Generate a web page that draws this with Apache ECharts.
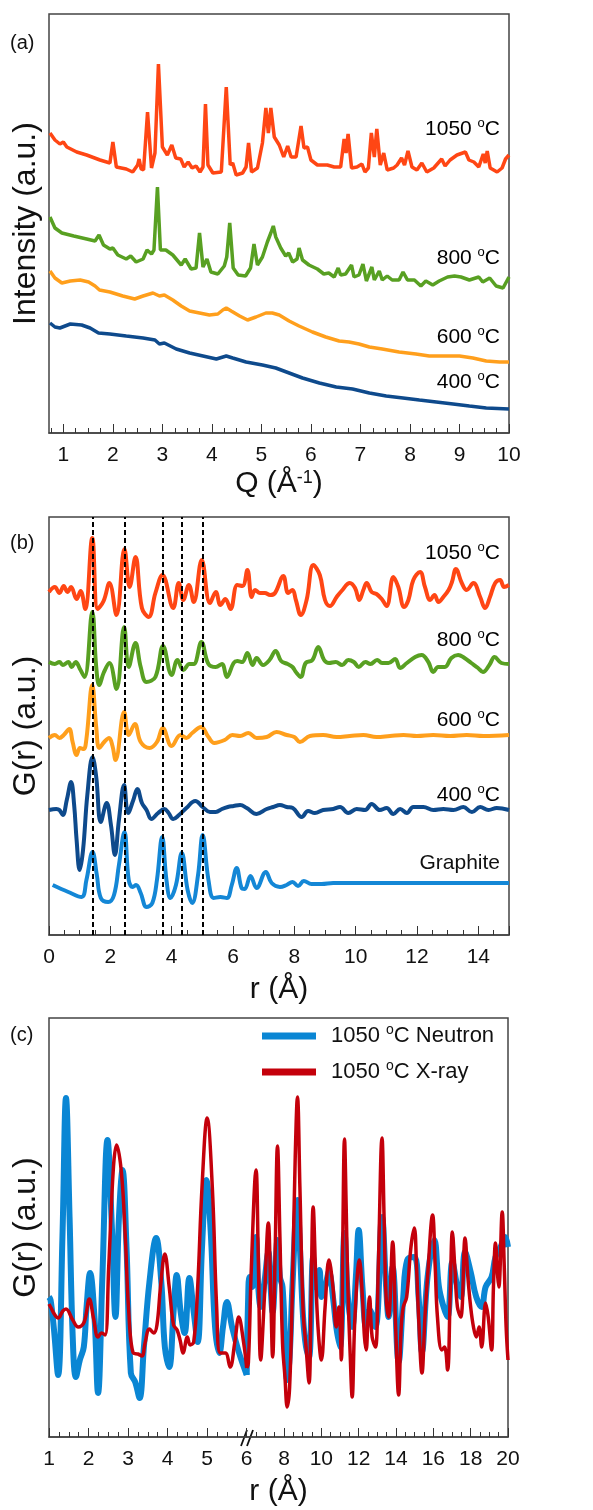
<!DOCTYPE html>
<html><head><meta charset="utf-8">
<script src="https://cdn.jsdelivr.net/npm/echarts@6/dist/echarts.min.js"></script>
<style>html,body{margin:0;padding:0;background:#fff}#c{width:593px;height:1510px}</style>
</head><body><div id="c"></div>
<script>
// ---------- Panel (a): XRD intensity vs Q ----------
const qTicks = [1,2,3,4,5,6,7,8,9,10];
const xrd1050 = [[0.73,300],[0.83,293],[0.93,289],[1.0,291],[1.07,286],[1.27,281],[1.47,278],[1.74,273],[1.94,270],[2.0,291],[2.07,266],[2.27,264],[2.40,261],[2.50,268],[2.53,274],[2.57,264],[2.62,263],[2.70,321],[2.78,265],[2.85,280],[2.92,369],[3.0,286],[3.10,278],[3.19,288],[3.27,275],[3.37,274],[3.44,266],[3.52,271],[3.60,265],[3.68,267],[3.76,261],[3.82,266],[3.87,329],[3.92,268],[4.02,260],[4.19,261],[4.29,346],[4.37,268],[4.42,270],[4.49,258],[4.62,260],[4.69,266],[4.74,290],[4.80,261],[4.92,265],[5.02,290],[5.09,325],[5.14,300],[5.19,325],[5.26,296],[5.36,288],[5.45,276],[5.53,287],[5.60,276],[5.70,276],[5.80,307],[5.86,285],[5.93,286],[6.00,273],[6.13,268],[6.33,268],[6.47,266],[6.60,266],[6.67,294],[6.71,280],[6.75,299],[6.82,265],[6.93,266],[7.03,269],[7.09,261],[7.16,265],[7.22,300],[7.28,276],[7.33,304],[7.40,268],[7.47,280],[7.54,263],[7.67,265],[7.74,268],[7.83,275],[7.89,268],[7.96,282],[8.04,266],[8.14,263],[8.24,270],[8.34,261],[8.48,265],[8.64,274],[8.71,267],[8.81,273],[8.95,278],[9.12,281],[9.19,273],[9.29,271],[9.39,266],[9.48,279],[9.52,270],[9.56,282],[9.62,265],[9.76,261],[9.86,265],[9.93,274],[10.0,278]];
const xrd800 = [[0.73,216],[0.83,205],[0.97,200],[1.21,197],[1.47,194],[1.64,192],[1.72,198],[1.81,188],[1.94,184],[2.0,185],[2.10,178],[2.27,174],[2.36,177],[2.47,171],[2.61,174],[2.69,183],[2.78,179],[2.83,183],[2.90,246],[2.96,183],[3.07,183],[3.21,178],[3.38,168],[3.46,174],[3.58,164],[3.68,165],[3.75,200],[3.82,166],[3.90,174],[3.98,161],[4.12,159],[4.25,167],[4.30,176],[4.36,210],[4.43,165],[4.53,158],[4.68,157],[4.78,165],[4.85,189],[4.92,168],[5.02,176],[5.12,191],[5.19,200],[5.24,207],[5.29,196],[5.39,185],[5.49,177],[5.55,180],[5.63,171],[5.72,174],[5.76,185],[5.83,173],[5.96,168],[6.13,164],[6.26,159],[6.36,160],[6.47,156],[6.55,165],[6.60,158],[6.70,159],[6.82,168],[6.87,156],[6.97,158],[7.05,169],[7.12,152],[7.23,166],[7.28,153],[7.38,162],[7.44,153],[7.54,157],[7.64,153],[7.78,153],[7.86,161],[7.95,153],[8.09,153],[8.22,147],[8.32,152],[8.46,148],[8.59,152],[8.76,156],[8.90,157],[9.03,156],[9.20,153],[9.39,156],[9.47,151],[9.61,155],[9.74,147],[9.88,145],[10.0,156]];
const xrd600 = [[0.73,162],[0.83,155],[0.97,150],[1.14,152],[1.34,153],[1.51,151],[1.64,147],[1.73,143],[1.76,145],[1.94,141],[2.20,137],[2.44,134],[2.61,137],[2.81,140],[2.94,137],[3.04,138],[3.21,133],[3.38,127],[3.55,122],[3.75,120],[3.95,118],[4.12,119],[4.22,123],[4.29,125],[4.39,122],[4.56,117],[4.72,113],[4.89,116],[5.09,120],[5.22,120],[5.36,118],[5.56,112],[5.76,107],[6.03,101],[6.30,96],[6.57,92],[6.77,91],[6.97,89],[7.18,86],[7.44,84],[7.78,81],[8.12,79],[8.39,77],[8.73,77],[9.00,77],[9.27,75],[9.54,72],[9.81,71],[10.0,71]];
const xrd400 = [[0.73,110],[0.83,106],[0.93,105],[1.14,109],[1.37,108],[1.54,105],[1.71,100],[1.74,98],[1.94,99],[2.27,97],[2.61,95],[2.85,93],[2.94,89],[3.04,90],[3.28,84],[3.55,80],[3.82,77],[4.09,74],[4.12,73],[4.29,77],[4.42,75],[4.69,71],[5.02,68],[5.29,65],[5.56,60],[5.83,55],[6.17,50],[6.51,46],[6.84,44],[7.18,40],[7.52,37],[7.86,35],[8.19,33],[8.53,31],[8.87,29],[9.20,27],[9.54,25],[10.0,24]];

// ---------- Panel (b): G(r) ----------
const dashR = [1.42, 2.46, 3.70, 4.32, 5.0];
const g1050 = [[0,343],[0.19,348],[0.34,342],[0.48,349],[0.60,343],[0.72,348],[0.90,336],[1.03,344],[1.18,326],[1.41,397],[1.59,326],[1.78,334],[1.97,352],[2.20,320],[2.46,386],[2.63,348],[2.82,378],[3.03,327],[3.25,318],[3.47,342],[3.70,360],[4.05,327],[4.23,352],[4.38,335],[4.56,350],[4.72,333],[4.98,375],[5.25,332],[5.44,343],[5.59,330],[5.75,336],[5.92,326],[6.14,350],[6.31,349],[6.47,365],[6.61,338],[6.72,345],[6.88,342],[7.04,342],[7.21,340],[7.37,342],[7.64,359],[7.80,342],[7.94,345],[8.05,335],[8.21,320],[8.40,335],[8.62,370],[8.83,360],[9.00,335],[9.16,329],[9.38,338],[9.54,344],[9.81,352],[9.98,347],[10.12,335],[10.25,345],[10.36,352],[10.52,343],[10.68,341],[10.85,336],[11.01,329],[11.23,358],[11.39,348],[11.58,328],[11.72,335],[11.88,355],[12.10,363],[12.26,348],[12.43,335],[12.57,340],[12.70,333],[12.86,338],[13.03,345],[13.14,353],[13.27,366],[13.46,352],[13.62,345],[13.84,352],[14.06,338],[14.22,327],[14.38,338],[14.55,352],[14.71,355],[14.84,348],[15.0,350]];
const g800 = [[0,273],[0.19,271],[0.34,273],[0.45,270],[0.63,273],[0.74,268],[0.87,273],[1.01,266],[1.16,258],[1.41,323],[1.54,268],[1.64,250],[1.78,262],[1.97,272],[2.20,246],[2.45,308],[2.60,268],[2.82,292],[2.99,268],[3.18,253],[3.47,258],[3.72,289],[4.00,260],[4.19,275],[4.38,265],[4.58,271],[4.72,271],[4.97,293],[5.20,271],[5.44,268],[5.64,271],[5.80,258],[6.02,272],[6.14,274],[6.30,273],[6.47,282],[6.64,270],[6.77,277],[6.98,270],[7.19,275],[7.39,284],[7.57,274],[7.78,271],[7.94,268],[8.05,263],[8.21,258],[8.37,272],[8.59,275],[8.78,288],[8.97,275],[9.13,272],[9.35,273],[9.56,270],[9.76,275],[9.94,273],[10.10,268],[10.32,273],[10.48,271],[10.70,275],[10.86,272],[11.07,272],[11.29,276],[11.45,267],[11.67,272],[11.94,278],[12.15,280],[12.37,273],[12.53,263],[12.69,268],[12.91,268],[13.12,277],[13.34,280],[13.55,277],[13.77,272],[13.99,267],[14.15,263],[14.36,270],[14.53,278],[14.75,272],[15.0,271]];
const g600 = [[0,197],[0.19,200],[0.34,197],[0.48,200],[0.66,206],[0.77,193],[0.90,180],[1.01,187],[1.13,186],[1.22,196],[1.41,250],[1.54,208],[1.64,187],[1.80,193],[1.96,197],[2.07,189],[2.17,175],[2.45,223],[2.60,200],[2.80,211],[2.99,193],[3.28,187],[3.52,193],[3.71,207],[4.00,189],[4.29,200],[4.48,197],[4.67,202],[4.96,208],[5.20,198],[5.39,192],[5.73,195],[5.98,200],[6.23,199],[6.50,202],[6.77,197],[7.10,198],[7.42,203],[7.75,200],[8.0,198],[8.18,193],[8.51,199],[8.94,200],[9.38,198],[9.81,199],[10.25,200],[10.68,198],[11.12,199],[11.56,200],[12.0,199],[12.53,200],[13.08,199],[13.62,200],[14.17,199],[15.0,200]];
const g400 = [[0,125],[0.24,126],[0.34,125],[0.45,120],[0.58,135],[0.72,153],[0.82,130],[0.90,95],[1.00,65],[1.11,85],[1.25,140],[1.42,178],[1.54,158],[1.69,113],[1.88,132],[2.02,110],[2.15,80],[2.28,115],[2.45,150],[2.58,122],[2.75,135],[2.88,146],[3.03,132],[3.18,125],[3.34,116],[3.56,122],[3.76,126],[3.90,122],[4.05,116],[4.24,120],[4.48,127],[4.77,134],[5.01,128],[5.25,123],[5.44,123],[5.64,126],[5.83,128],[6.02,129],[6.23,130],[6.45,127],[6.77,121],[7.10,126],[7.31,128],[7.53,130],[7.75,128],[7.95,127],[8.24,118],[8.45,124],[8.67,122],[8.94,125],[9.27,126],[9.49,128],[9.76,122],[10.03,126],[10.31,125],[10.52,131],[10.79,125],[11.01,127],[11.23,121],[11.45,126],[11.67,122],[11.88,128],[12.21,128],[12.53,125],[12.86,126],[13.19,125],[13.51,128],[13.79,123],[14.06,128],[14.33,125],[14.60,127],[15.0,125]];
const gGraphite = [[0.12,50],[0.63,43],[1.06,38],[1.22,55],[1.42,83],[1.56,60],[1.69,37],[1.93,33],[2.12,40],[2.28,70],[2.46,103],[2.60,55],[2.73,48],[2.84,50],[2.99,42],[3.18,28],[3.37,32],[3.52,55],[3.69,98],[3.83,55],[3.96,37],[4.14,50],[4.33,82],[4.52,45],[4.67,32],[4.86,60],[5.01,100],[5.20,55],[5.37,37],[5.59,38],[5.80,37],[5.96,50],[6.12,67],[6.28,47],[6.38,46],[6.57,59],[6.77,47],[7.07,63],[7.26,52],[7.53,48],[7.75,50],[7.94,53],[8.12,49],[8.31,54],[8.56,51],[8.89,51],[9.27,52],[9.60,52],[15.0,52]];

// ---------- Panel (c): neutron vs X-ray, broken r axis ----------
const neutronLeft = [[1.0,140],[1.04,137],[1.12,110],[1.23,62],[1.34,200],[1.43,339],[1.52,220],[1.60,100],[1.68,60],[1.78,77],[1.88,90],[1.95,130],[2.04,164],[2.15,120],[2.24,44],[2.35,160],[2.48,297],[2.59,210],[2.68,120],[2.77,220],[2.86,267],[2.96,190],[3.07,64],[3.18,55],[3.29,39],[3.40,90],[3.54,155],[3.71,199],[3.84,155],[3.93,90],[4.04,70],[4.15,125],[4.23,162],[4.33,125],[4.43,104],[4.55,159],[4.66,125],[4.76,95],[4.87,190],[4.98,257],[5.09,205],[5.20,110],[5.31,84],[5.40,110],[5.50,135],[5.63,110],[5.80,85],[6.0,62]];
const xrayLeft = [[1.0,133],[1.04,130],[1.15,122],[1.23,119],[1.35,126],[1.43,128],[1.60,117],[1.74,110],[1.89,115],[2.02,138],[2.13,118],[2.24,100],[2.33,104],[2.42,102],[2.51,170],[2.63,270],[2.71,292],[2.83,265],[2.93,200],[3.01,130],[3.13,84],[3.25,83],[3.35,81],[3.43,94],[3.54,108],[3.65,104],[3.73,112],[3.82,150],[3.93,183],[4.04,150],[4.15,112],[4.24,107],[4.32,96],[4.39,84],[4.50,100],[4.57,92],[4.66,95],[4.76,150],[4.87,250],[5.0,319],[5.13,250],[5.24,130],[5.33,84],[5.46,84],[5.58,70],[5.70,95],[5.80,120],[5.92,95],[6.0,69]];
const neutronRight = [[6.0,62],[6.08,140],[6.15,160],[6.3,150],[6.5,200],[6.62,150],[6.75,130],[6.95,155],[7.16,185],[7.28,150],[7.39,125],[7.52,160],[7.65,197],[7.78,160],[7.92,150],[8.05,100],[8.17,57],[8.30,80],[8.45,150],[8.72,237],[8.85,190],[9.02,120],[9.18,90],[9.34,80],[9.56,180],[9.70,150],[9.9,167],[10.0,140],[10.2,150],[10.41,165],[10.62,140],[10.8,110],[11.0,90],[11.24,204],[11.42,140],[11.65,110],[11.85,160],[12.0,207],[12.2,150],[12.40,110],[12.6,127],[12.9,110],[13.25,220],[13.47,150],[13.6,120],[13.82,170],[14.14,75],[14.39,140],[14.6,177],[14.98,180],[15.21,140],[15.39,85],[15.69,160],[16.05,197],[16.3,150],[16.55,130],[16.76,120],[17.02,175],[17.29,150],[17.47,140],[17.70,185],[18.0,165],[18.3,140],[18.59,130],[18.80,150],[19.12,160],[19.33,180],[19.6,190],[19.85,200],[20.0,190]];
const xrayRight = [[6.0,69],[6.09,74],[6.25,170],[6.5,267],[6.62,180],[6.75,77],[6.95,140],[7.16,214],[7.28,150],[7.39,80],[7.52,180],[7.65,291],[7.78,200],[7.92,94],[8.05,60],[8.17,30],[8.30,50],[8.45,150],[8.6,280],[8.72,340],[8.85,250],[9.02,127],[9.18,90],[9.34,54],[9.45,140],[9.56,230],[9.70,160],[9.82,110],[10.0,77],[10.2,130],[10.41,177],[10.62,150],[10.80,110],[10.94,130],[11.07,77],[11.15,200],[11.24,298],[11.33,230],[11.42,150],[11.55,80],[11.65,40],[11.80,120],[12.04,177],[12.2,140],[12.31,100],[12.40,87],[12.5,120],[12.58,140],[12.72,100],[12.90,90],[13.05,170],[13.25,299],[13.36,220],[13.47,140],[13.6,120],[13.82,195],[13.98,110],[14.14,42],[14.28,110],[14.39,130],[14.57,140],[14.8,190],[14.98,209],[15.1,170],[15.21,120],[15.39,64],[15.55,120],[15.69,160],[15.96,222],[16.1,170],[16.22,120],[16.45,87],[16.6,90],[16.76,67],[16.9,140],[17.02,205],[17.15,170],[17.29,130],[17.47,120],[17.70,199],[17.85,160],[18.0,130],[18.15,110],[18.30,100],[18.45,110],[18.59,90],[18.80,134],[18.94,120],[19.12,87],[19.22,150],[19.33,194],[19.45,160],[19.51,150],[19.69,225],[19.80,170],[19.9,110],[20.0,77]];

// ---------- styling ----------
const FONT = '"Liberation Sans", Arial, Helvetica, sans-serif';
const TXT = '#111';
const FRAME = '#444';
const C1050 = '#FF4614', C800 = '#58A022', C600 = '#FF9F1C', C400 = '#0E4A8C', CGR = '#1487D6';
const CNEU = '#0A86D4', CXR = '#C4000B';

const qMinor = [];
for (let i = 3; i < 40; i++) { if (i % 4 !== 0) qMinor.push(i / 4); }

const supRich = {
  t: {fontSize: 21, fontFamily: FONT, color: TXT, lineHeight: 24},
  s: {fontSize: 13, fontFamily: FONT, color: TXT, lineHeight: 13, verticalAlign: 'top'}
};
function tempText(t) { return '{t|' + t + ' }{s|o}{t|C}'; }

const tickCommon = {show: true, inside: true, length: 9, lineStyle: {color: '#333', width: 1}};
const minorCommon = {show: true, splitNumber: 4, length: 5, lineStyle: {color: '#333', width: 1}};
const labelCommon = {fontSize: 21, fontFamily: FONT, color: TXT, margin: 12};
const lineCommon = {show: true, lineStyle: {color: FRAME, width: 1.5}};
const nameStyle = {fontSize: 30, fontFamily: FONT, color: TXT,
  rich: {s: {fontSize: 18, fontFamily: FONT, color: TXT, lineHeight: 18, verticalAlign: 'top'}}};
const yNameStyle = {fontSize: 32, fontFamily: FONT, color: TXT};

function hiddenY(gridIndex, max, name) {
  return {type: 'value', gridIndex, min: 0, max, name: name || '', nameLocation: 'middle', nameRotate: 90, nameGap: 7,
    nameTextStyle: yNameStyle, axisLine: {show: false}, axisTick: {show: false}, axisLabel: {show: false}, splitLine: {show: false}};
}

const chart = echarts.init(document.getElementById('c'));
const option = {
  animation: false,
  textStyle: {fontFamily: FONT},
  grid: [
    {left: 49, top: 14, width: 460, height: 419, show: true, borderColor: FRAME, borderWidth: 1.5},
    {left: 49, top: 517, width: 460, height: 418, show: true, borderColor: FRAME, borderWidth: 1.5},
    {left: 49, top: 1018, width: 197.7, height: 419},
    {left: 246.7, top: 1018, width: 261.3, height: 419},
    {left: 49, top: 1018, width: 459, height: 419, show: true, borderColor: FRAME, borderWidth: 1.5}
  ],
  xAxis: [
    {type: 'value', gridIndex: 0, position: 'bottom', min: 0.71, max: 10, axisLine: lineCommon,
      axisTick: Object.assign({customValues: qTicks}, tickCommon),
      axisLabel: Object.assign({customValues: qTicks}, labelCommon), splitLine: {show: false},
      name: 'Q (Å{s|-1})', nameLocation: 'middle', nameGap: 36, nameTextStyle: nameStyle},
    {type: 'value', gridIndex: 0, position: 'bottom', min: 0.71, max: 10, axisLine: {show: false},
      axisTick: {show: true, inside: true, length: 5, customValues: qMinor, lineStyle: {color: '#333', width: 1}},
      axisLabel: {show: false}, splitLine: {show: false}},
    {type: 'value', gridIndex: 1, position: 'bottom', min: 0, max: 15, interval: 2, axisLine: lineCommon,
      axisTick: tickCommon, minorTick: minorCommon, axisLabel: Object.assign({showMaxLabel: false}, labelCommon), splitLine: {show: false},
      name: 'r (Å)', nameLocation: 'middle', nameGap: 40, nameTextStyle: nameStyle},
    {type: 'value', gridIndex: 2, position: 'bottom', min: 1, max: 6, interval: 1, axisLine: lineCommon,
      axisTick: tickCommon, minorTick: minorCommon, axisLabel: labelCommon, splitLine: {show: false}},
    {type: 'value', gridIndex: 3, position: 'bottom', min: 6, max: 20, interval: 2, axisLine: lineCommon,
      axisTick: tickCommon, minorTick: minorCommon, axisLabel: Object.assign({showMinLabel: false}, labelCommon), splitLine: {show: false}},
    {type: 'value', gridIndex: 4, position: 'bottom', min: 0, max: 1, axisLine: {show: false}, axisTick: {show: false}, axisLabel: {show: false}, splitLine: {show: false},
      name: 'r (Å)', nameLocation: 'middle', nameGap: 40, nameTextStyle: nameStyle}
  ],
  yAxis: [
    hiddenY(0, 419, 'Intensity (a.u.)'),
    hiddenY(1, 418, 'G(r) (a.u.)'),
    hiddenY(2, 419),
    hiddenY(3, 419),
    hiddenY(4, 1, 'G(r) (a.u.)')
  ],
  legend: {
    top: 1018, left: 257, orient: 'vertical', itemWidth: 54, itemHeight: 7, itemGap: 12,
    data: [
      {name: '1050 °C Neutron', icon: 'rect', itemStyle: {color: CNEU}},
      {name: '1050 °C X-ray', icon: 'rect', itemStyle: {color: CXR}}
    ],
    formatter: function (n) { return n.indexOf('Neutron') >= 0 ? '{t|1050 }{s|o}{t|C Neutron}' : '{t|1050 }{s|o}{t|C X-ray}'; },
    textStyle: {padding: [0, 0, 0, 10], rich: {
      t: {fontSize: 22, fontFamily: FONT, color: TXT, lineHeight: 26},
      s: {fontSize: 14, fontFamily: FONT, color: TXT, lineHeight: 14, verticalAlign: 'top'}}}
  },
  series: [
    {type: 'line', xAxisIndex: 0, yAxisIndex: 0, data: xrd400, showSymbol: false, lineStyle: {color: C400, width: 3.5}},
    {type: 'line', xAxisIndex: 0, yAxisIndex: 0, data: xrd600, showSymbol: false, lineStyle: {color: C600, width: 3.5}},
    {type: 'line', xAxisIndex: 0, yAxisIndex: 0, data: xrd800, showSymbol: false, lineStyle: {color: C800, width: 3.5}},
    {type: 'line', xAxisIndex: 0, yAxisIndex: 0, data: xrd1050, showSymbol: false, lineStyle: {color: C1050, width: 3.5}},

    {type: 'line', xAxisIndex: 2, yAxisIndex: 1, data: gGraphite, showSymbol: false, smooth: 0.4, lineStyle: {color: CGR, width: 4}},
    {type: 'line', xAxisIndex: 2, yAxisIndex: 1, data: g400, showSymbol: false, smooth: 0.4, lineStyle: {color: C400, width: 4}},
    {type: 'line', xAxisIndex: 2, yAxisIndex: 1, data: g600, showSymbol: false, smooth: 0.4, lineStyle: {color: C600, width: 4}},
    {type: 'line', xAxisIndex: 2, yAxisIndex: 1, data: g800, showSymbol: false, smooth: 0.4, lineStyle: {color: C800, width: 4}},
    {type: 'line', xAxisIndex: 2, yAxisIndex: 1, data: g1050, showSymbol: false, smooth: 0.4, lineStyle: {color: C1050, width: 4}},
    {type: 'line', xAxisIndex: 2, yAxisIndex: 1, data: [], z: 5,
      markLine: {silent: true, symbol: ['none', 'none'], label: {show: false},
        lineStyle: {color: '#000', type: [5, 3], width: 2},
        data: dashR.map(function (v) { return {xAxis: v}; })}},

    {name: '1050 °C Neutron', type: 'line', xAxisIndex: 3, yAxisIndex: 2, data: neutronLeft, showSymbol: false, smooth: 0.4, lineStyle: {color: CNEU, width: 6}, itemStyle: {color: CNEU}},
    {name: '1050 °C Neutron', type: 'line', xAxisIndex: 4, yAxisIndex: 3, data: neutronRight, showSymbol: false, smooth: 0.4, lineStyle: {color: CNEU, width: 6}, itemStyle: {color: CNEU}},
    {name: '1050 °C X-ray', type: 'line', xAxisIndex: 3, yAxisIndex: 2, data: xrayLeft, showSymbol: false, smooth: 0.4, lineStyle: {color: CXR, width: 3.5}, itemStyle: {color: CXR}},
    {name: '1050 °C X-ray', type: 'line', xAxisIndex: 4, yAxisIndex: 3, data: xrayRight, showSymbol: false, smooth: 0.4, lineStyle: {color: CXR, width: 3.5}, itemStyle: {color: CXR}}
  ],
  graphic: [
    {type: 'text', x: 10, y: 43, style: {text: '(a)', fontSize: 20, fontFamily: FONT, fill: TXT, verticalAlign: 'middle', textVerticalAlign: 'middle'}},
    {type: 'text', x: 10, y: 543, style: {text: '(b)', fontSize: 20, fontFamily: FONT, fill: TXT, verticalAlign: 'middle', textVerticalAlign: 'middle'}},
    {type: 'text', x: 10, y: 1035, style: {text: '(c)', fontSize: 20, fontFamily: FONT, fill: TXT, verticalAlign: 'middle', textVerticalAlign: 'middle'}},
    {type: 'text', x: 500, y: 129, style: {text: tempText('1050'), rich: supRich, align: 'right', verticalAlign: 'middle'}},
    {type: 'text', x: 500, y: 258, style: {text: tempText('800'), rich: supRich, align: 'right', verticalAlign: 'middle'}},
    {type: 'text', x: 500, y: 337, style: {text: tempText('600'), rich: supRich, align: 'right', verticalAlign: 'middle'}},
    {type: 'text', x: 500, y: 382, style: {text: tempText('400'), rich: supRich, align: 'right', verticalAlign: 'middle'}},
    {type: 'text', x: 500, y: 553, style: {text: tempText('1050'), rich: supRich, align: 'right', verticalAlign: 'middle'}},
    {type: 'text', x: 500, y: 640, style: {text: tempText('800'), rich: supRich, align: 'right', verticalAlign: 'middle'}},
    {type: 'text', x: 500, y: 720, style: {text: tempText('600'), rich: supRich, align: 'right', verticalAlign: 'middle'}},
    {type: 'text', x: 500, y: 795, style: {text: tempText('400'), rich: supRich, align: 'right', verticalAlign: 'middle'}},
    {type: 'text', x: 500, y: 863, style: {text: 'Graphite', fontSize: 21, fontFamily: FONT, fill: TXT, align: 'right', verticalAlign: 'middle'}},
    {type: 'line', shape: {x1: 241, y1: 1446, x2: 247, y2: 1430}, style: {stroke: '#111', lineWidth: 1.8}},
    {type: 'line', shape: {x1: 247, y1: 1446, x2: 253, y2: 1430}, style: {stroke: '#111', lineWidth: 1.8}}
  ]
};
chart.setOption(option);
</script>
</body></html>
